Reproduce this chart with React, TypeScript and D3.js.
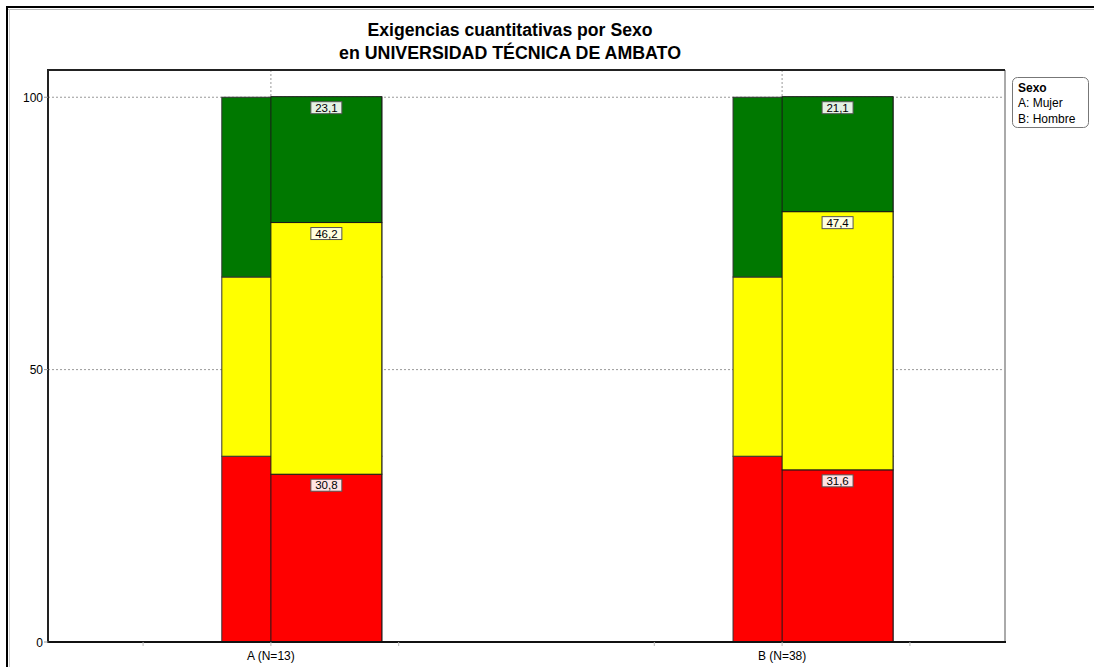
import React from "react";
import * as d3 from "d3";

const categories = ["A (N=13)", "B (N=38)"];
const levels = ["Rojo", "Amarillo", "Verde"];
const levelColors = ["#ff0000", "#ffff00", "#007800"];
const labelFills = ["#ffe4e4", "#ffffe0", "#e4f2e4"];
const referenceValues = [34.1, 32.9, 33.0];
const groupValues = [
  [30.8, 46.2, 23.1],
  [31.6, 47.4, 21.1],
];
const yTicks = [0, 50, 100];
const xMinorTicks = [0.75, 1.25, 1.75, 2.25];
const titleLines = ["Exigencias cuantitativas por Sexo", "en UNIVERSIDAD TÉCNICA DE AMBATO"];
const titleWidths = [285, 342];
const legendTitle = "Sexo";
const legendItems = ["A: Mujer", "B: Hombre"];

const W = 1094;
const H = 667;
const plot = { left: 48, right: 1005, top: 70, bottom: 642 };
const FONT = "'Liberation Sans', Arial, sans-serif";

export default function App() {
  const x = d3.scaleLinear().domain([0.564, 2.436]).range([plot.left, plot.right]);
  const y = d3.scaleLinear().domain([0, 105]).range([plot.bottom, plot.top]);
  const stack = (vals: number[]) => {
    let acc = 0;
    return vals.map((v) => {
      const s = acc;
      acc += v;
      return [s, acc];
    });
  };
  const refStack = stack(referenceValues);
  const backOff = -0.096;
  const barW = 0.217;

  return (
    <svg
      width={W}
      height={H}
      style={{ position: "absolute", left: 0, top: 0, background: "#fff" }}
      fontFamily={FONT}
    >
      {/* outer frame */}
      <line x1={7} x2={W} y1={7} y2={7} stroke="#000" strokeWidth={2} />
      <line x1={7} x2={W} y1={9.5} y2={9.5} stroke="#bbb" strokeWidth={1} />
      <line x1={7} x2={7} y1={6} y2={H} stroke="#000" strokeWidth={2} />
      <line x1={9.5} x2={9.5} y1={9} y2={H} stroke="#ccc" strokeWidth={1} />

      {/* title */}
      {titleLines.map((t, i) => (
        <text
          key={i}
          x={510}
          y={35.5 + i * 23}
          textAnchor="middle"
          fontSize={17.5}
          fontWeight="bold"
          fill="#000"
          textLength={titleWidths[i]}
          lengthAdjust="spacingAndGlyphs"
        >
          {t}
        </text>
      ))}

      {/* gridlines */}
      {yTicks.filter((t) => t > 0).map((t) => (
        <line key={t} x1={plot.left} x2={plot.right} y1={y(t)} y2={y(t)} stroke="#999" strokeDasharray="2,2" strokeWidth={1} />
      ))}
      {categories.map((c, i) => (
        <line key={c} x1={x(i + 1)} x2={x(i + 1)} y1={plot.top} y2={plot.bottom} stroke="#999" strokeDasharray="2,2" strokeWidth={1} />
      ))}

      {/* bars */}
      {categories.map((c, i) => {
        const cx = i + 1;
        const gStack = stack(groupValues[i]);
        return (
          <g key={c}>
            {refStack.map(([a, b], k) => (
              <rect
                key={"r" + k}
                x={x(cx + backOff)}
                width={x(cx + barW) - x(cx + backOff)}
                y={y(b)}
                height={y(a) - y(b)}
                fill={levelColors[k]}
                stroke="#333"
                strokeWidth={1}
              />
            ))}
            {gStack.map(([a, b], k) => (
              <rect
                key={"g" + k}
                x={x(cx)}
                width={x(cx + barW) - x(cx)}
                y={y(b)}
                height={y(a) - y(b)}
                fill={levelColors[k]}
                stroke="#1a1a1a"
                strokeWidth={1}
              />
            ))}
            {gStack.map(([a, b], k) => {
              const mx = (x(cx) + x(cx + barW)) / 2;
              const label = groupValues[i][k].toFixed(1).replace(".", ",");
              return (
                <g key={"l" + k}>
                  <rect x={mx - 15.5} y={y(b) + 5} width={31} height={12} fill={labelFills[k]} stroke="#555" strokeWidth={1} />
                  <text x={mx} y={y(b) + 15} textAnchor="middle" fontSize={11.5} fill="#000">
                    {label}
                  </text>
                </g>
              );
            })}
          </g>
        );
      })}

      {/* plot frame */}
      <line x1={plot.right} x2={plot.right} y1={plot.top} y2={plot.bottom} stroke="#aaa" strokeWidth={2} />
      <line x1={plot.left} x2={plot.right} y1={plot.top} y2={plot.top} stroke="#222" strokeWidth={2} />
      <line x1={plot.left} x2={plot.right + 1} y1={plot.bottom} y2={plot.bottom} stroke="#111" strokeWidth={2} />
      <line x1={plot.left} x2={plot.left} y1={plot.top - 1} y2={plot.bottom + 1} stroke="#222" strokeWidth={2} />

      {/* y axis */}
      {yTicks.map((t) => (
        <g key={t}>
          <line x1={plot.left - 4} x2={plot.left} y1={y(t)} y2={y(t)} stroke="#999" />
          <text x={plot.left - 5} y={y(t) + 4.5} textAnchor="end" fontSize={12} fill="#000">
            {t}
          </text>
        </g>
      ))}

      {/* x axis */}
      {xMinorTicks.map((t) => (
        <line key={t} x1={x(t)} x2={x(t)} y1={plot.bottom} y2={plot.bottom + 4} stroke="#bbb" />
      ))}
      {categories.map((c, i) => (
        <g key={c}>
          <line x1={x(i + 1)} x2={x(i + 1)} y1={plot.bottom} y2={plot.bottom + 4} stroke="#bbb" />
          <text x={x(i + 1)} y={plot.bottom + 18} textAnchor="middle" fontSize={12} fill="#000">
            {c}
          </text>
        </g>
      ))}

      {/* legend */}
      <rect x={1012.5} y={77.5} width={76} height={50} rx={5} ry={5} fill="#fff" stroke="#777" strokeWidth={1} />
      <text x={1018} y={92} fontSize={12} fontWeight="bold" fill="#000">
        {legendTitle}
      </text>
      {legendItems.map((t, i) => (
        <text key={t} x={1018} y={107 + i * 15.5} fontSize={12} fill="#000">
          {t}
        </text>
      ))}
    </svg>
  );
}
